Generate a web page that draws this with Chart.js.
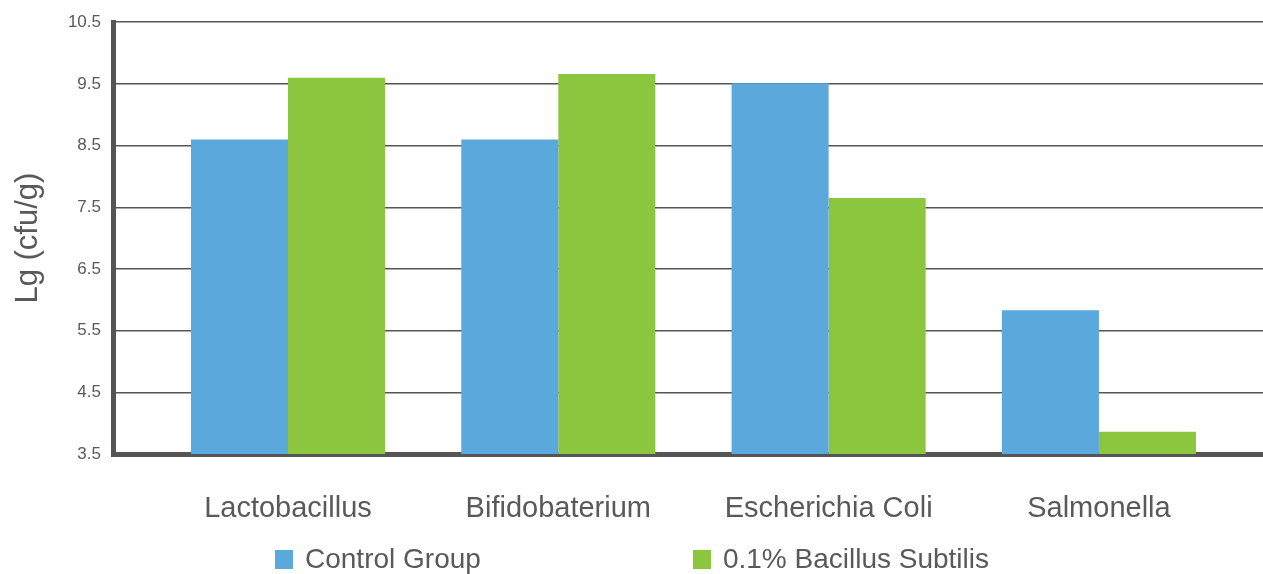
<!DOCTYPE html>
<html>
<head>
<meta charset="utf-8">
<script src="https://cdn.jsdelivr.net/npm/chart.js@4/dist/chart.umd.min.js"></script>
<style>
  html, body { margin: 0; padding: 0; background: #fff; }
  #wrap { position: relative; width: 1263px; height: 574px; }
  #legend {
    position: absolute; left: 275px; top: 543px;
    display: flex; align-items: center;
    font-family: 'Liberation Sans', Arial, sans-serif;
    font-size: 28px; color: #595959;
  }
  .item { display: flex; align-items: center; }
  .item + .item { margin-left: 212px; }
  .box { width: 18px; height: 19px; margin-right: 12px; }
</style>
</head>
<body>
<div id="wrap">
  <canvas id="chart"></canvas>
  <div id="legend"></div>
</div>
<script>
const categories = ['Lactobacillus', 'Bifidobaterium', 'Escherichia Coli', 'Salmonella'];
const seriesNames = ['Control Group', '0.1% Bacillus Subtilis'];
const controlValues = [8.6, 8.6, 9.51, 5.83];
const subtilisValues = [9.6, 9.66, 7.65, 3.86];
const yTicks = [3.5, 4.5, 5.5, 6.5, 7.5, 8.5, 9.5, 10.5];
const colors = ['#5ba8dc', '#8cc63f'];

const textColor = '#595959';
const axisColor = '#555555';
const fontFamily = "'Liberation Sans', Arial, sans-serif";

function toPoints(values) {
  return values.map((v, i) => ({ x: i, y: v }));
}

const ctx = document.getElementById('chart');

new Chart(ctx, {
  type: 'bar',
  data: {
    datasets: [
      { label: seriesNames[0], data: toPoints(controlValues), backgroundColor: colors[0] },
      { label: seriesNames[1], data: toPoints(subtilisValues), backgroundColor: colors[1] }
    ]
  },
  options: {
    responsive: true,
    maintainAspectRatio: false,
    animation: false,
    layout: { padding: { top: 21, right: 0, bottom: 50, left: 0 } },
    datasets: {
      bar: { categoryPercentage: 0.718, barPercentage: 1, borderWidth: 0 }
    },
    plugins: {
      legend: { display: false },
      tooltip: { enabled: false }
    },
    scales: {
      x: {
        type: 'linear',
        min: -0.6474,
        max: 3.607,
        offset: false,
        z: 1,
        grid: { display: false, drawTicks: false },
        border: { display: true, color: axisColor, width: 5 },
        afterBuildTicks: (scale) => {
          scale.ticks = categories.map((c, i) => ({ value: i }));
        },
        afterFit: (scale) => { scale.height = 70; },
        ticks: {
          padding: 38,
          color: textColor,
          font: { family: fontFamily, size: 29 },
          maxRotation: 0,
          callback: (v) => categories[v]
        }
      },
      y: {
        min: 3.5,
        max: 10.5,
        z: 1,
        grid: { color: axisColor, lineWidth: 1.5, drawTicks: false },
        border: { display: true, color: axisColor, width: 5 },
        afterBuildTicks: (scale) => {
          scale.ticks = yTicks.map(v => ({ value: v }));
        },
        afterFit: (scale) => { scale.width = 113; },
        ticks: {
          padding: 12,
          color: textColor,
          font: { family: fontFamily, size: 17 },
          callback: (v) => Number(v).toFixed(1)
        },
        title: {
          display: true,
          text: 'Lg (cfu/g)',
          color: textColor,
          font: { family: fontFamily, size: 31 },
          padding: { top: 10, bottom: 0 }
        }
      }
    }
  }
});

// legend as html below the chart
const legend = document.getElementById('legend');
seriesNames.forEach((name, i) => {
  const item = document.createElement('div');
  item.className = 'item';
  const box = document.createElement('span');
  box.className = 'box';
  box.style.background = colors[i];
  const label = document.createElement('span');
  label.textContent = name;
  item.appendChild(box);
  item.appendChild(label);
  legend.appendChild(item);
});
</script>
</body>
</html>
